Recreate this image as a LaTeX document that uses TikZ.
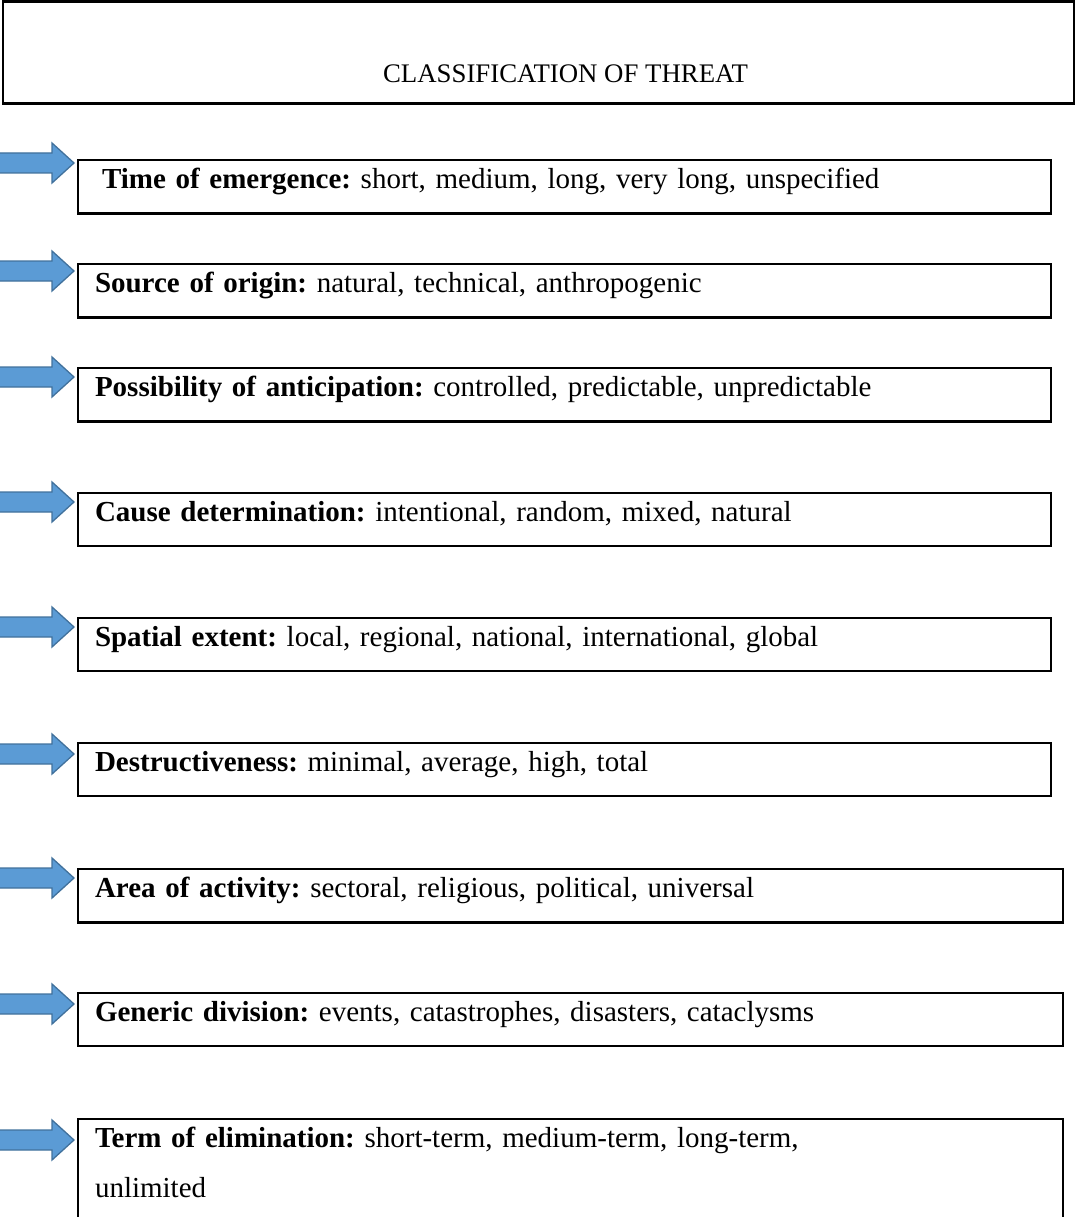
\documentclass[tikz,border=0pt]{standalone}
\usepackage{fontspec}
\setmainfont{Liberation Serif}
\usetikzlibrary{calc}
\definecolor{ArrowFill}{HTML}{5B9BD5}
\definecolor{ArrowEdge}{HTML}{41719C}
\frenchspacing
\tikzset{
  every node/.style={font=\fontsize{29}{50}\selectfont, text=black},
  heading/.style={draw=black, line width=2.2pt, anchor=north west, outer sep=0pt, inner sep=0pt, minimum width=1071pt, text height=81pt, text depth=21pt, font=\fontsize{26.8}{32}\selectfont},
  classbox/.style={draw=black, line width=2.2pt, anchor=north west, outer sep=0pt, inner xsep=17pt, inner ysep=8pt, text depth=17pt, minimum height=52pt, align=left},
  shortbox/.style={classbox, text width=939pt},
  longbox/.style={classbox, text width=951pt},
  blockarrow/.style={fill=ArrowFill, draw=ArrowEdge, line width=1.3pt, line join=miter},
}

\begin{document}
\begin{tikzpicture}[x=1pt,y=-1pt]
  \useasboundingbox (0,0) rectangle (1079,1217);
  % Heading
  \node[heading] (title) at (3,1.5) {\hspace*{54pt}CLASSIFICATION OF THREAT};
  % Classes
  \node[shortbox] (box1) at (78,160) {\hspace*{7pt}\textbf{Time of emergence:} short, medium, long, very long, unspecified};
  \node[shortbox] (box2) at (78,264) {\textbf{Source of origin:} natural, technical, anthropogenic};
  \node[shortbox] (box3) at (78,368) {\textbf{Possibility of anticipation:} controlled, predictable, unpredictable};
  \node[shortbox] (box4) at (78,493) {\textbf{Cause determination:} intentional, random, mixed, natural};
  \node[shortbox] (box5) at (78,618) {\textbf{Spatial extent:} local, regional, national, international, global};
  \node[shortbox] (box6) at (78,743) {\textbf{Destructiveness:} minimal, average, high, total};
  \node[longbox] (box7) at (78,869) {\textbf{Area of activity:} sectoral, religious, political, universal};
  \node[longbox] (box8) at (78,993) {\textbf{Generic division:} events, catastrophes, disasters, cataclysms};
  \node[longbox, text depth=70pt] (box9) at (78,1119) {\textbf{Term of elimination:} short-term, medium-term, long-term,\\unlimited};
  % Block arrows, tip just left of each box
  \foreach \i/\dy in {1/3,2/7,3/9,4/9,5/9,6/11,7/9,8/11,9/21}{
    \coordinate (tip\i) at ($(box\i.north west)+(-4,\dy)$);
    \draw[blockarrow] (tip\i) -- ++(-22,-20) -- ++(0,10) -- ++(-57,0) -- ++(0,20) -- ++(57,0) -- ++(0,10) -- cycle;
  }
\end{tikzpicture}
\end{document}
